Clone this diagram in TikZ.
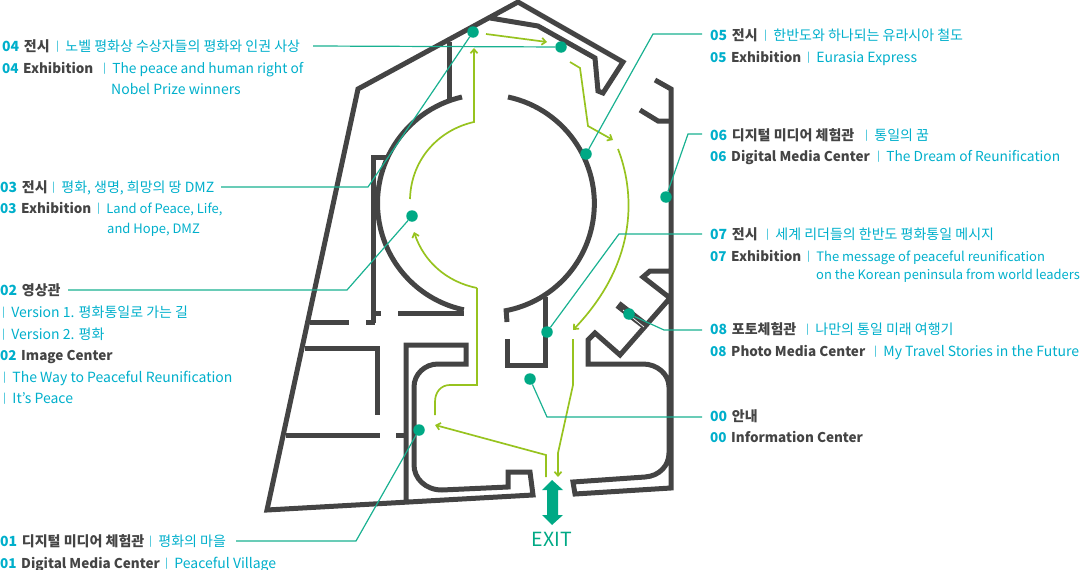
\documentclass[tikz,border=0pt]{standalone}
\usepackage{fontspec}
\setmainfont{Noto Sans CJK KR}
\usetikzlibrary{arrows.meta}

\definecolor{wallcol}{HTML}{444444}
\definecolor{pathcol}{HTML}{97C31F}
\definecolor{dotcol}{HTML}{00A985}
\definecolor{numcol}{HTML}{00AFCB}

\tikzset{
    wall/.style={line width=5pt, wallcol, line join=miter},
    route/.style={line width=1.7pt, pathcol},
    routearrow/.style={route, -{Straight Barb[length=4pt,width=7pt]}},
    leader/.style={line width=1.2pt, dotcol!90!white},
    dot/.style={circle, fill=dotcol, inner sep=0pt, minimum size=11.5pt},
    ttl/.style={anchor=base west, inner sep=0pt, font=\fontsize{14}{14}\selectfont\bfseries, text=wallcol},
    ttle/.style={ttl, font=\fontsize{13.5}{14}\selectfont\bfseries},
    dsc/.style={anchor=base west, inner sep=0pt, font=\fontsize{14}{14}\selectfont, text=numcol},
    dscm/.style={dsc, font=\fontsize{13.75}{14}\selectfont},
    dscs/.style={dsc, font=\fontsize{13}{14}\selectfont},
}
\newcommand{\nr}[1]{\textcolor{numcol}{#1}\hspace{1.5pt}}
\newcommand{\bb}[1]{\raisebox{1.5pt}{\fontsize{10}{10}\selectfont|}\hspace{6.5pt}#1}

\begin{document}
\begin{tikzpicture}[x=1pt, y=-1pt]

    \useasboundingbox (0,0) rectangle (1080,570);

    % outer walls
    \draw[wall] (490,18) -- (538,26) -- (595,58) -- (598,91) -- (603,93) -- (623,62) -- (518,2) -- (358,89) -- (267,510) -- (533,495) -- (530,472) -- (508,472) -- (508,487) -- (442,490) .. controls (425,490) and (414,478) .. (414,465) -- (414,387) .. controls (414,374) and (425,364) .. (438,364) -- (466,364) -- (466,345) -- (406,345) -- (406,500);
    \draw[wall] (655,80) -- (671,89) -- (671,488) -- (575,494) -- (573,482) -- (645,477) .. controls (660,476) and (669,465) .. (669,453) -- (669,387) .. controls (669,374) and (657,364) .. (643,364) -- (588,364) -- (588,340) -- (595,333) -- (620,355) -- (670,298) -- (643,277) -- (650,271) -- (670,271);
    \draw[wall] (640,110) -- (658,121) -- (671,121);

    % rotunda
    \draw[wall] (462,97) arc (257:102:109);
    \draw[wall] (398,313) -- (464,313);
    \draw[wall] (508,97) arc (-78:79:109) -- (507,322);

    % inner rooms
    \draw[wall] (449,42) -- (449,100);
    \draw[wall] (387,157) -- (373,157) -- (373,323);
    \draw[wall] (373,313) -- (381,313);
    \draw[wall] (310,322) -- (349,322);
    \draw[wall] (366,322) -- (375,322);
    \draw[wall] (305,348) -- (377,348) -- (377,415);
    \draw[wall] (286,435) -- (380,435);
    \draw[wall] (396,435) -- (406,435);
    \draw[wall] (507,339) -- (507,365) -- (545,365) -- (545,297);

    % photo booth
    \draw[line width=8pt, wallcol] (618,304.5) -- (647,327);
    \draw[line width=0.7pt, white] (623,310) -- (644,327);

    % exit
    \fill[dotcol] (552,480) -- (563,490) -- (558,490) -- (558,515) -- (563,515) -- (552,525) -- (542,515) -- (547,515) -- (547,490) -- (542,490) -- cycle;
    \node[inner sep=0pt, text=dotcol, font=\fontsize{19.5}{20}\selectfont] (exit) at (552,539) {EXIT};

    % route
    \draw[route] (435,415) -- (435,402) .. controls (435,392) and (441,385) .. (450,385) -- (477,385) -- (477,288);
    \draw[routearrow] (477,288) .. controls (447,282) and (424,262) .. (414,232);
    \draw[routearrow] (410,199) .. controls (411,160) and (438,130) .. (474,122) -- (474,48);
    \draw[routearrow] (486,34) -- (547,42);
    \draw[routearrow] (570,62) -- (580,68) -- (588,126) -- (613,140);
    \draw[routearrow] (618,149) .. controls (634,190) and (640,260) .. (573,330);
    \draw[routearrow] (573,339) -- (573,385) -- (558,453) -- (558,477);
    \draw[routearrow] (546,477) -- (546,455) -- (435,425);

    % markers
    \node[dot] (p00) at (530,379) {};
    \node[dot] (p01) at (419,430) {};
    \node[dot] (p02) at (412,216) {};
    \node[dot] (p03) at (473,32) {};
    \node[dot] (p04) at (561,47) {};
    \node[dot] (p05) at (586,154) {};
    \node[dot] (p06) at (666,197) {};
    \node[dot] (p07) at (547,332) {};
    \node[dot] (p08) at (629,314) {};

    % leaders
    \coordinate (c00) at (702,417);
    \coordinate (c01) at (236,541);
    \coordinate (c02) at (68,290);
    \coordinate (c03) at (221,187);
    \coordinate (c04) at (313,46);
    \coordinate (c05) at (702,34);
    \coordinate (c06) at (702,134);
    \coordinate (c07) at (702,234);
    \coordinate (c08) at (702,330);
    \draw[leader] (c00) -- (547,417) -- (p00);
    \draw[leader] (c01) -- (356,541) -- (p01);
    \draw[leader] (c02) -- (347,290) -- (p02);
    \draw[leader] (c03) -- (368,187) -- (p03);
    \draw[leader] (c04) -- (p04);
    \draw[leader] (c05) -- (653,34) -- (p05);
    \draw[leader] (c06) -- (688,134) -- (p06);
    \draw[leader] (c07) -- (619,234) -- (p07);
    \draw[leader] (c08) -- (664,330) -- (p08);

    % left labels
    \node[ttl] (t04) at (2,51) {\nr{04} 전시};
    \node[dsc] (d04) at (56,51) {\bb{노벨 평화상 수상자들의 평화와 인권 사상}};
    \node[ttle] (t04e) at (2,73) {\nr{04} Exhibition};
    \node[dscm] (d04e) at (103,73) {\bb{The peace and human right of}};
    \node[dsc] (d04f) at (111,94) {Nobel Prize winners};

    \node[ttl] (t03) at (0,192) {\nr{03} 전시};
    \node[dsc] (d03) at (52,192) {\bb{평화, 생명, 희망의 땅 DMZ}};
    \node[ttle] (t03e) at (0,213) {\nr{03} Exhibition};
    \node[dscs] (d03e) at (97,213) {\bb{Land of Peace, Life,}};
    \node[dscs] (d03f) at (107,233) {and Hope, DMZ};

    \node[ttl] (t02) at (0,295) {\nr{02} 영상관};
    \node[dsc] (d02a) at (2,317) {\bb{Version 1. 평화통일로 가는 길}};
    \node[dsc] (d02b) at (2,339) {\bb{Version 2. 평화}};
    \node[ttle] (t02e) at (0,360) {\nr{02} Image Center};
    \node[dsc] (d02c) at (3,382) {\bb{The Way to Peaceful Reunification}};
    \node[dsc] (d02d) at (3,403) {\bb{It's Peace}};

    \node[ttl] (t01) at (0,546) {\nr{01} 디지털 미디어 체험관};
    \node[dsc] (d01) at (149,546) {\bb{평화의 마을}};
    \node[ttle] (t01e) at (0,568) {\nr{01} Digital Media Center};
    \node[dsc] (d01e) at (165,568) {\bb{Peaceful Village}};

    % right labels
    \node[ttl] (t05) at (710,40) {\nr{05} 전시};
    \node[dsc] (d05) at (764,40) {\bb{한반도와 하나되는 유라시아 철도}};
    \node[ttle] (t05e) at (710,62) {\nr{05} Exhibition};
    \node[dsc] (d05e) at (807,62) {\bb{Eurasia Express}};

    \node[ttl] (t06) at (710,140) {\nr{06} 디지털 미디어 체험관};
    \node[dsc] (d06) at (865,140) {\bb{통일의 꿈}};
    \node[ttle] (t06e) at (710,161) {\nr{06} Digital Media Center};
    \node[dscm] (d06e) at (877,161) {\bb{The Dream of Reunification}};

    \node[ttl] (t07) at (710,239) {\nr{07} 전시};
    \node[dsc] (d07) at (766,239) {\bb{세계 리더들의 한반도 평화통일 메시지}};
    \node[ttle] (t07e) at (710,261) {\nr{07} Exhibition};
    \node[dscs] (d07e) at (807,261) {\bb{The message of peaceful reunification}};
    \node[dsc, font=\fontsize{12.95}{14}\selectfont] (d07f) at (816,279) {on the Korean peninsula from world leaders};

    \node[ttl] (t08) at (710,334) {\nr{08} 포토체험관};
    \node[dsc] (d08) at (806,334) {\bb{나만의 통일 미래 여행기}};
    \node[ttle] (t08e) at (710,356) {\nr{08} Photo Media Center};
    \node[dsc] (d08e) at (874,356) {\bb{My Travel Stories in the Future}};

    \node[ttl] (t00) at (710,421) {\nr{00} 안내};
    \node[ttle] (t00e) at (710,442) {\nr{00} Information Center};

\end{tikzpicture}
\end{document}
